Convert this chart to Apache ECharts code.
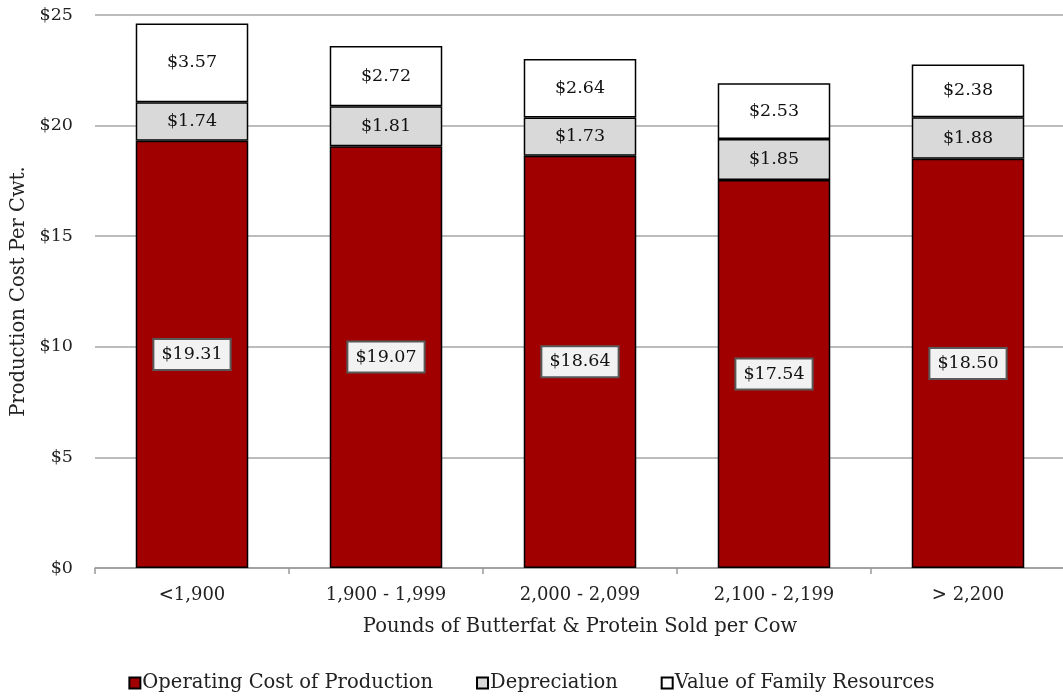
<!DOCTYPE html>
<html>
<head>
<meta charset="utf-8">
<script src="https://cdn.jsdelivr.net/npm/echarts@6/dist/echarts.min.js"></script>
<style>
  html, body { margin: 0; padding: 0; background: #fff; }
  #chart { width: 1063px; height: 700px; }
</style>
</head>
<body>
<div id="chart"></div>
<script>
// Production cost per hundredweight by butterfat & protein sold per cow
const categories = ['<1,900', '1,900 - 1,999', '2,000 - 2,099', '2,100 - 2,199', '> 2,200'];
const operatingCost = [19.31, 19.07, 18.64, 17.54, 18.50];
const depreciation = [1.74, 1.81, 1.73, 1.85, 1.88];
const familyResources = [3.57, 2.72, 2.64, 2.53, 2.38];
const yTicks = [0, 5, 10, 15, 20, 25];

const FONT = 'DejaVu Serif';
const TEXT = '#222';

const money = v => '$' + Number(v).toFixed(2);

const barBorder = { borderColor: '#000', borderWidth: 1.5 };

const chart = echarts.init(document.getElementById('chart'));
chart.setOption({
  animation: false,
  textStyle: { fontFamily: FONT, color: TEXT },
  grid: { left: 95, right: -2, top: 15, bottom: 132, containLabel: false, outerBoundsMode: 'none' },
  legend: {
    bottom: 2,
    left: 'center',
    itemWidth: 11,
    itemHeight: 11,
    itemGap: 43,
    icon: 'rect',
    textStyle: { fontFamily: FONT, fontSize: 19.5, color: TEXT, padding: [0, 0, 0, -3] },
    data: ['Operating Cost of Production', 'Depreciation', 'Value of Family Resources']
  },
  xAxis: {
    type: 'category',
    data: categories,
    name: 'Pounds of Butterfat & Protein Sold per Cow',
    nameLocation: 'middle',
    nameGap: 49,
    nameTextStyle: { fontFamily: FONT, fontSize: 19.5, color: TEXT },
    axisLine: { lineStyle: { color: '#999', width: 1.5 } },
    axisTick: { show: true, length: 6, lineStyle: { color: '#999', width: 1.5 } },
    axisLabel: { fontFamily: FONT, fontSize: 18, color: TEXT, margin: 18 }
  },
  yAxis: {
    type: 'value',
    min: yTicks[0],
    max: yTicks[yTicks.length - 1],
    interval: 5,
    name: 'Production Cost Per Cwt.',
    nameLocation: 'middle',
    nameGap: 66,
    nameTextStyle: { fontFamily: FONT, fontSize: 19.5, color: TEXT },
    axisLine: { show: false },
    axisTick: { show: false },
    splitLine: { lineStyle: { color: '#a6a6a6', width: 1.5 } },
    axisLabel: {
      fontFamily: FONT, fontSize: 17.5, color: TEXT, margin: 22,
      formatter: v => '$' + v
    }
  },
  series: [
    {
      name: 'Operating Cost of Production',
      type: 'bar',
      stack: 'cost',
      barWidth: '58%',
      data: operatingCost,
      itemStyle: Object.assign({ color: '#a00000' }, barBorder),
      label: {
        show: true,
        position: 'inside',
        formatter: p => money(p.value),
        fontFamily: FONT,
        fontSize: 17.5,
        color: '#111',
        backgroundColor: '#f2f2f2',
        borderColor: '#595959',
        borderWidth: 2,
        padding: [6, 7, 5, 7]
      }
    },
    {
      name: 'Depreciation',
      type: 'bar',
      stack: 'cost',
      data: depreciation,
      itemStyle: Object.assign({ color: '#d9d9d9' }, barBorder),
      label: {
        show: true,
        position: 'inside',
        formatter: p => money(p.value),
        fontFamily: FONT,
        fontSize: 17.5,
        color: '#111'
      }
    },
    {
      name: 'Value of Family Resources',
      type: 'bar',
      stack: 'cost',
      data: familyResources,
      itemStyle: Object.assign({ color: '#ffffff' }, barBorder),
      label: {
        show: true,
        position: 'inside',
        formatter: p => money(p.value),
        fontFamily: FONT,
        fontSize: 17.5,
        color: '#111'
      }
    }
  ]
});
</script>
</body>
</html>
